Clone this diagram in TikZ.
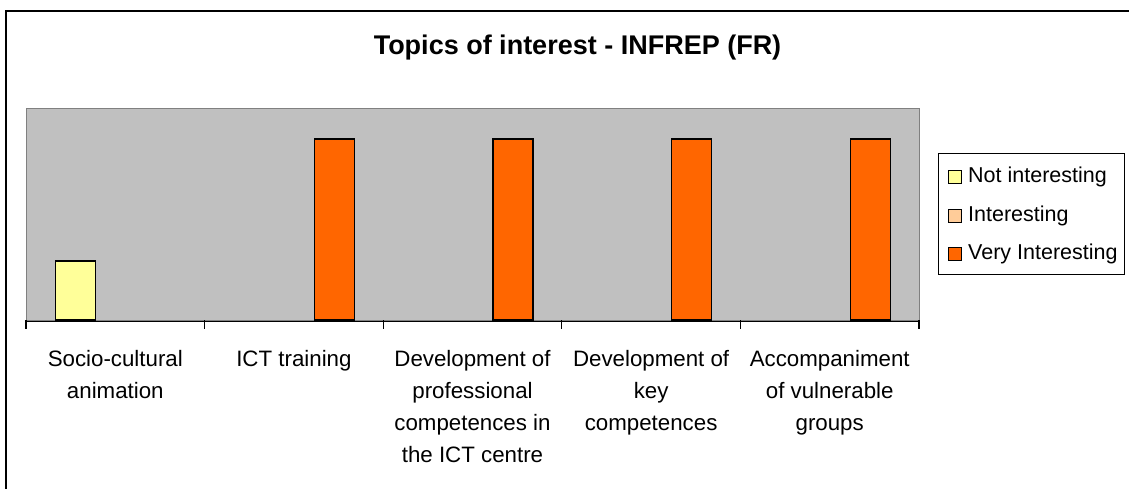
\documentclass[tikz,border=0pt]{standalone}
\usepackage{fontspec}
\setmainfont{Liberation Sans}
\definecolor{plotgray}{HTML}{C0C0C0}
\definecolor{plotedge}{HTML}{808080}
\definecolor{notint}{HTML}{FFFF99}
\definecolor{intc}{HTML}{FFCC99}
\definecolor{veryint}{HTML}{FF6600}
\tikzset{
  bar/.style={draw=black, line width=1.2pt},
  catlabel/.style={anchor=north, inner sep=0pt, align=center, font=\fontsize{22.3}{32}\selectfont},
  legsq/.style={draw=black, line width=1.2pt, minimum width=13pt, minimum height=13pt, inner sep=0pt},
  legtext/.style={anchor=west, inner sep=0pt, font=\fontsize{21.5}{26}\selectfont},
}
\begin{document}
\begin{tikzpicture}[x=1pt, y=-1pt]
\useasboundingbox (0,0) rectangle (1129,489);
% outer frame
\draw[line width=1.6pt] (6,11) rectangle (1140,500);
% title
\node (title) at (577.5,47.5) {\fontsize{27}{30}\selectfont\bfseries Topics of interest - INFREP (FR)};
% plot area
\node[draw=plotedge, fill=plotgray, line width=1.2pt, minimum width=893pt, minimum height=212pt, inner sep=0pt, anchor=north west] (plot) at (26,108) {};
% bars (category width 178.6)
\path[bar, fill=notint] (55.3,320) rectangle (95.3,261);
\path[bar, fill=veryint] (314.4,320) rectangle (354.4,139);
\path[bar, fill=veryint] (493.0,320) rectangle (533.0,139);
\path[bar, fill=veryint] (671.6,320) rectangle (711.6,139);
\path[bar, fill=veryint] (850.2,320) rectangle (890.2,139);
% axis
\draw[line width=1.3pt] (plot.south west) -- (plot.south east);
\foreach \x in {26,204.6,383.2,561.8,740.4,919} {
  \draw[line width=1.2pt] (\x,320) -- (\x,329);
}
% category labels
\node[catlabel] (c1) at (115.3,343.6) {\strut Socio-cultural\\animation};
\node[catlabel] (c2) at (293.9,343.6) {\strut ICT training};
\node[catlabel] (c3) at (472.5,343.6) {\strut Development of\\professional\\competences in\\the ICT centre};
\node[catlabel] (c4) at (651.1,343.6) {\strut Development of\\key\\competences};
\node[catlabel] (c5) at (829.7,343.6) {\strut Accompaniment\\of vulnerable\\groups};
% legend
\node[draw=black, line width=1.3pt, minimum width=186pt, minimum height=121pt, inner sep=0pt, anchor=north west] (legend) at (938,153) {};
\node[legsq, fill=notint] (s1) at (955,177) {};
\node[legsq, fill=intc] (s2) at (955,216) {};
\node[legsq, fill=veryint] (s3) at (955,254) {};
\node[legtext] (l1) at (968,177) {Not interesting};
\node[legtext] (l2) at (968,216) {Interesting};
\node[legtext] (l3) at (968,254) {Very Interesting};
\end{tikzpicture}
\end{document}
